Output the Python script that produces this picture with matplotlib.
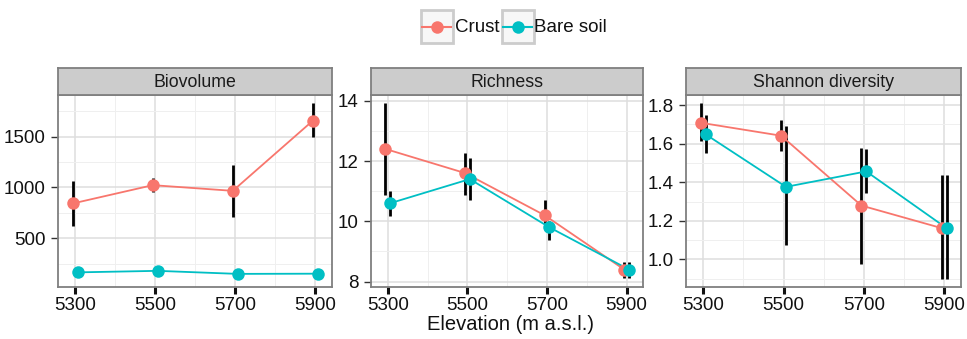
import numpy as np
import matplotlib
matplotlib.use("Agg")
import matplotlib.pyplot as plt
from matplotlib.patches import Rectangle
from matplotlib.lines import Line2D

plt.rcParams['font.family'] = ['Liberation Sans', 'DejaVu Sans']

elevation = np.array([5300, 5500, 5700, 5900])
groups = ['Crust', 'Bare soil']
colors = {'Crust': '#F8766D', 'Bare soil': '#00BFC4'}

# biovolume
bio_crust = [843, 1023, 967, 1657]
bio_crust_lo = [619, 957, 711, 1494]
bio_crust_hi = [1065, 1098, 1219, 1830]
bio_bare = [165, 180, 150, 152]
bio_bare_lo = [150, 166, 138, 140]
bio_bare_hi = [180, 194, 162, 164]

# richness
rich_crust = [12.4, 11.6, 10.2, 8.4]
rich_crust_lo = [10.87, 10.87, 9.75, 8.12]
rich_crust_hi = [13.91, 12.25, 10.72, 8.66]
rich_bare = [10.6, 11.4, 9.8, 8.4]
rich_bare_lo = [10.17, 10.72, 9.39, 8.12]
rich_bare_hi = [11.0, 12.09, 10.0, 8.66]

# shannon diversity
shan_crust = [1.708, 1.641, 1.279, 1.162]
shan_crust_lo = [1.612, 1.56, 0.976, 0.90]
shan_crust_hi = [1.81, 1.722, 1.578, 1.435]
shan_bare = [1.648, 1.376, 1.456, 1.162]
shan_bare_lo = [1.552, 1.076, 1.345, 0.90]
shan_bare_hi = [1.748, 1.69, 1.573, 1.435]

panels = [
    ('Biovolume', (bio_crust, bio_crust_lo, bio_crust_hi), (bio_bare, bio_bare_lo, bio_bare_hi),
     (21, 1910), [500, 1000, 1500], ['500', '1000', '1500'], [250, 750, 1250, 1750]),
    ('Richness', (rich_crust, rich_crust_lo, rich_crust_hi), (rich_bare, rich_bare_lo, rich_bare_hi),
     (7.82, 14.19), [8, 10, 12, 14], ['8', '10', '12', '14'], [9, 11, 13]),
    ('Shannon diversity', (shan_crust, shan_crust_lo, shan_crust_hi), (shan_bare, shan_bare_lo, shan_bare_hi),
     (0.857, 1.852), [1.0, 1.2, 1.4, 1.6, 1.8], ['1.0', '1.2', '1.4', '1.6', '1.8'], [0.9, 1.1, 1.3, 1.5, 1.7]),
]

W, H = 967, 339
fig = plt.figure(figsize=(W / 100, H / 100), dpi=100)

panel_x = [(58, 332), (370.7, 643.3), (686, 961)]
panel_top, panel_bot = 95, 287
strip_top = 68
dodge = 6
border = '#7f7f7f'

for (x0, x1), (title, crust, bare, ylim, yt, ytl, ymin) in zip(panel_x, panels):
    ax = fig.add_axes([x0 / W, (H - panel_bot) / H, (x1 - x0) / W, (panel_bot - panel_top) / H])
    ax.set_xlim(5257, 5942)
    ax.set_ylim(*ylim)
    ax.set_xticks(elevation)
    ax.set_xticks([5400, 5600, 5800], minor=True)
    ax.set_yticks(yt)
    ax.set_yticklabels(ytl)
    ax.set_yticks(ymin, minor=True)
    ax.grid(True, which='major', color='#dedede', lw=1.1, zorder=0)
    ax.grid(True, which='minor', color='#efefef', lw=0.7, zorder=0)
    ax.set_axisbelow(True)
    for s in ax.spines.values():
        s.set_color(border)
        s.set_linewidth(1.3)
    ax.tick_params(axis='x', which='major', length=5, width=2.2, color='#111111',
                   labelsize=13.5, pad=2, labelcolor='#111111')
    ax.tick_params(axis='y', which='major', length=5, width=1.0, color='#333333',
                   labelsize=13.5, pad=4, labelcolor='#111111')
    ax.tick_params(which='minor', length=0)

    series = [('Crust', crust, -dodge), ('Bare soil', bare, dodge)]
    for name, (val, lo, hi), off in series:
        ax.vlines(elevation + off, lo, hi, color='black', lw=2.0, zorder=2)
    for name, (val, lo, hi), off in series:
        ax.plot(elevation + off, val, '-', color=colors[name], lw=1.3, zorder=3)
    for name, (val, lo, hi), off in series:
        ax.plot(elevation + off, val, 'o', color=colors[name], ms=9, mec='none', zorder=4)

    # facet strip
    sax = fig.add_axes([x0 / W, (H - panel_top) / H, (x1 - x0) / W, (panel_top - strip_top) / H])
    sax.set_facecolor('#cccccc')
    sax.set_xticks([])
    sax.set_yticks([])
    for s in sax.spines.values():
        s.set_color(border)
        s.set_linewidth(1.3)
    sax.text(0.5, 0.48, title, ha='center', va='center', fontsize=12.8, color='#1a1a1a',
             transform=sax.transAxes)

fig.text(510 / W, 1 - 324.5 / H, 'Elevation (m a.s.l.)', ha='center', va='center',
         fontsize=14.5, color='#111111')

# legend drawn in figure pixel space
lax = fig.add_axes([0, 0, 1, 1])
lax.set_xlim(0, W)
lax.set_ylim(H, 0)
lax.axis('off')
keys = [('Crust', 420.5, 455), ('Bare soil', 501.5, 534.5)]
for name, kx, tx in keys:
    lax.add_patch(Rectangle((kx, 10), 32, 33, facecolor='#f7f7f7', edgecolor='#cccccc', lw=2.0))
    lax.add_line(Line2D([kx + 1.5, kx + 30.5], [26.5, 26.5], color=colors[name], lw=1.5))
    lax.plot([kx + 16], [26.5], 'o', color=colors[name], ms=9, mec='none')
    lax.text(tx, 27, name, ha='left', va='center', fontsize=13.5, color='#111111')

fig.savefig('out.png', dpi=100)
